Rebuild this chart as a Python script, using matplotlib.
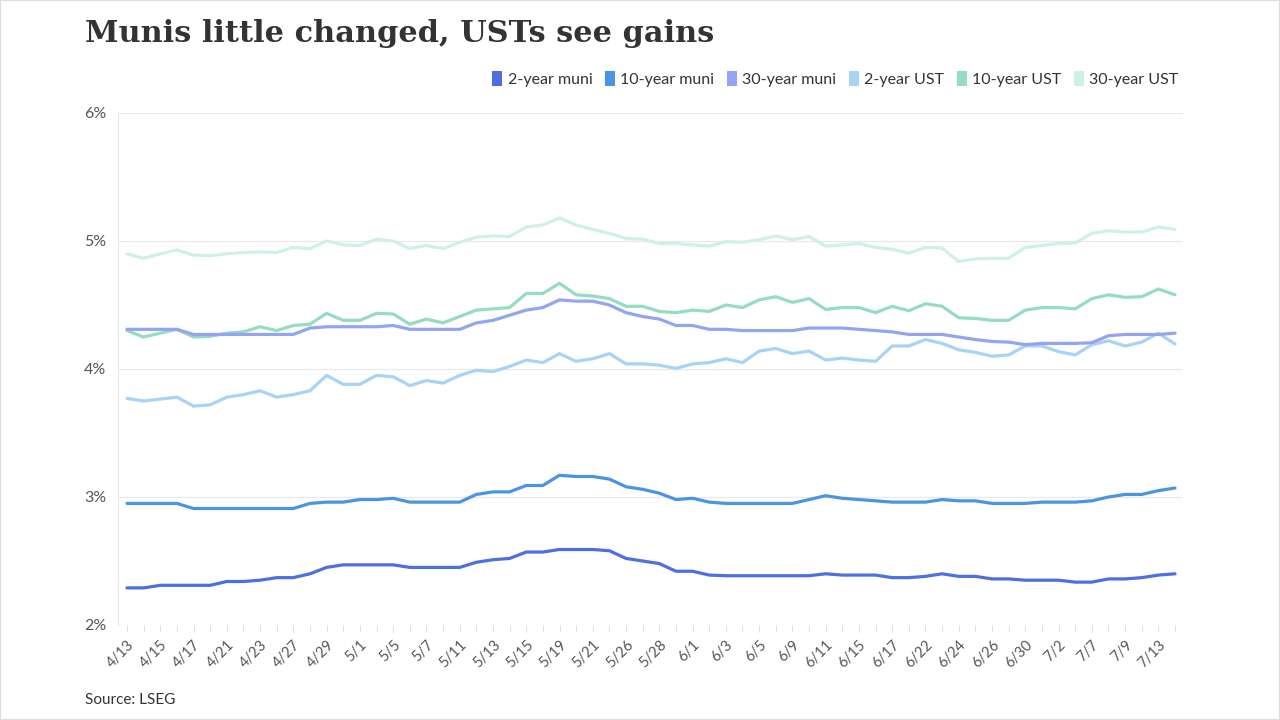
import matplotlib.pyplot as plt
from matplotlib.patches import Patch, Rectangle

dates = ['4/13', '4/14', '4/15', '4/16', '4/17', '4/20', '4/21', '4/22', '4/23', '4/24',
         '4/27', '4/28', '4/29', '4/30', '5/1', '5/4', '5/5', '5/6', '5/7', '5/8',
         '5/11', '5/12', '5/13', '5/14', '5/15', '5/18', '5/19', '5/20', '5/21', '5/22',
         '5/26', '5/27', '5/28', '5/29', '6/1', '6/2', '6/3', '6/4', '6/5', '6/8',
         '6/9', '6/10', '6/11', '6/12', '6/15', '6/16', '6/17', '6/18', '6/22', '6/23',
         '6/24', '6/25', '6/26', '6/29', '6/30', '7/1', '7/2', '7/6', '7/7', '7/8',
         '7/9', '7/10', '7/13', '7/14']

muni_2y = [2.29, 2.29, 2.31, 2.31, 2.31, 2.31, 2.34, 2.34, 2.35, 2.37,
           2.37, 2.40, 2.45, 2.47, 2.47, 2.47, 2.47, 2.45, 2.45, 2.45,
           2.45, 2.49, 2.51, 2.52, 2.57, 2.57, 2.59, 2.59, 2.59, 2.58,
           2.52, 2.50, 2.48, 2.42, 2.42, 2.39, 2.385, 2.385, 2.385, 2.385,
           2.385, 2.385, 2.40, 2.39, 2.39, 2.39, 2.37, 2.37, 2.38, 2.40,
           2.38, 2.38, 2.36, 2.36, 2.35, 2.35, 2.35, 2.335, 2.335, 2.36,
           2.36, 2.37, 2.39, 2.40]
muni_10y = [2.95, 2.95, 2.95, 2.95, 2.91, 2.91, 2.91, 2.91, 2.91, 2.91,
            2.91, 2.95, 2.96, 2.96, 2.98, 2.98, 2.99, 2.96, 2.96, 2.96,
            2.96, 3.02, 3.04, 3.04, 3.09, 3.09, 3.17, 3.16, 3.16, 3.14,
            3.08, 3.06, 3.03, 2.98, 2.99, 2.96, 2.95, 2.95, 2.95, 2.95,
            2.95, 2.98, 3.01, 2.99, 2.98, 2.97, 2.96, 2.96, 2.96, 2.98,
            2.97, 2.97, 2.95, 2.95, 2.95, 2.96, 2.96, 2.96, 2.97, 3.00,
            3.02, 3.02, 3.05, 3.07]
muni_30y = [4.31, 4.31, 4.31, 4.31, 4.27, 4.27, 4.27, 4.27, 4.27, 4.27,
            4.27, 4.32, 4.33, 4.33, 4.33, 4.33, 4.34, 4.31, 4.31, 4.31,
            4.31, 4.36, 4.38, 4.42, 4.46, 4.48, 4.54, 4.53, 4.53, 4.50,
            4.44, 4.41, 4.39, 4.34, 4.34, 4.31, 4.31, 4.30, 4.30, 4.30,
            4.30, 4.32, 4.32, 4.32, 4.31, 4.30, 4.29, 4.27, 4.27, 4.27,
            4.25, 4.23, 4.215, 4.21, 4.19, 4.20, 4.20, 4.20, 4.205, 4.26,
            4.27, 4.27, 4.27, 4.28]
ust_2y = [3.77, 3.75, 3.765, 3.78, 3.71, 3.72, 3.78, 3.80, 3.83, 3.78,
          3.80, 3.83, 3.95, 3.88, 3.88, 3.95, 3.94, 3.87, 3.91, 3.89,
          3.95, 3.99, 3.98, 4.02, 4.07, 4.05, 4.12, 4.06, 4.08, 4.12,
          4.04, 4.04, 4.03, 4.005, 4.04, 4.05, 4.08, 4.05, 4.14, 4.16,
          4.12, 4.14, 4.07, 4.085, 4.07, 4.06, 4.18, 4.18, 4.23, 4.20,
          4.15, 4.13, 4.10, 4.11, 4.18, 4.18, 4.135, 4.11, 4.19, 4.22,
          4.18, 4.21, 4.28, 4.195]
ust_10y = [4.30, 4.25, 4.28, 4.31, 4.25, 4.255, 4.28, 4.29, 4.33, 4.30,
           4.34, 4.35, 4.435, 4.38, 4.38, 4.435, 4.43, 4.35, 4.39, 4.36,
           4.41, 4.46, 4.47, 4.48, 4.59, 4.59, 4.67, 4.58, 4.57, 4.55,
           4.49, 4.49, 4.45, 4.44, 4.46, 4.45, 4.50, 4.48, 4.54, 4.565,
           4.52, 4.55, 4.465, 4.48, 4.48, 4.44, 4.49, 4.455, 4.51, 4.49,
           4.40, 4.395, 4.38, 4.38, 4.46, 4.48, 4.48, 4.47, 4.55, 4.58,
           4.56, 4.565, 4.625, 4.58]
ust_30y = [4.90, 4.865, 4.90, 4.93, 4.89, 4.885, 4.90, 4.91, 4.915, 4.91,
           4.95, 4.94, 5.00, 4.97, 4.965, 5.015, 5.00, 4.94, 4.965, 4.94,
           4.99, 5.03, 5.04, 5.035, 5.11, 5.125, 5.18, 5.125, 5.09, 5.06,
           5.02, 5.015, 4.98, 4.98, 4.97, 4.96, 4.995, 4.99, 5.01, 5.04,
           5.01, 5.035, 4.96, 4.97, 4.98, 4.95, 4.935, 4.905, 4.95, 4.945,
           4.84, 4.86, 4.865, 4.865, 4.95, 4.965, 4.98, 4.985, 5.06, 5.08,
           5.07, 5.07, 5.11, 5.09]

series = [
    ('2-year muni', muni_2y, '#4f6fe0'),
    ('10-year muni', muni_10y, '#4a94e6'),
    ('30-year muni', muni_30y, '#93a5f0'),
    ('2-year UST', ust_2y, '#a8d3f7'),
    ('10-year UST', ust_10y, '#96dcc1'),
    ('30-year UST', ust_30y, '#cdf2e4'),
]
yticks = [2, 3, 4, 5, 6]

plt.rcParams['font.family'] = ['Lato', 'DejaVu Sans']

fig = plt.figure(figsize=(12.8, 7.2), dpi=100)
ax = fig.add_axes([118 / 1280, 1 - 625 / 720, (1183 - 118) / 1280, (625 - 113) / 720])

x = list(range(len(dates)))
# draw light lines first so the muni lines sit on top
for name, vals, col in reversed(series):
    ax.plot(x, vals, color=col, lw=2.3, solid_joinstyle='round', solid_capstyle='round')

ax.set_xlim(-0.54, len(dates) - 1 + 0.48)
ax.set_ylim(2, 6)
ax.set_yticks(yticks)
ax.set_yticklabels([f'{v}%' for v in yticks], fontsize=11.5, color='#555555')
ax.set_xticks(x)
ax.set_xticklabels([d if i % 2 == 0 else '' for i, d in enumerate(dates)],
                   rotation=45, ha='right', rotation_mode='anchor',
                   fontsize=10.5, color='#555555')
ax.tick_params(axis='x', length=5, width=0.8, color='#dddddd', pad=4)
ax.tick_params(axis='y', length=0, pad=8.5)
ax.grid(axis='y', color='#e9e9e9', lw=0.9)
ax.set_axisbelow(True)
for s in ['top', 'right', 'bottom']:
    ax.spines[s].set_visible(False)
ax.spines['left'].set_color('#e6e6e6')

fig.text(85 / 1280, 1 - 33 / 720, 'Munis little changed, USTs see gains',
         family='DejaVu Serif', weight='bold', fontsize=21.9, color='#333333', va='center')

handles = [Patch(facecolor=col, edgecolor='none', label=name) for name, _, col in series]
fig.legend(handles=handles, loc='center right', bbox_to_anchor=(1193 / 1280, 1 - 79 / 720),
           ncol=6, frameon=False, fontsize=11.5, handlelength=0.6, handleheight=1.1,
           handletextpad=0.35, columnspacing=0.8, labelcolor='#333333')

fig.text(85 / 1280, 1 - 700 / 720, 'Source: LSEG', fontsize=11, color='#333333', va='center')

fig.patches.append(Rectangle((0, 0), 1, 1, transform=fig.transFigure, fill=False,
                             edgecolor='#dddddd', lw=1.5))

fig.savefig('out.png', dpi=100)
